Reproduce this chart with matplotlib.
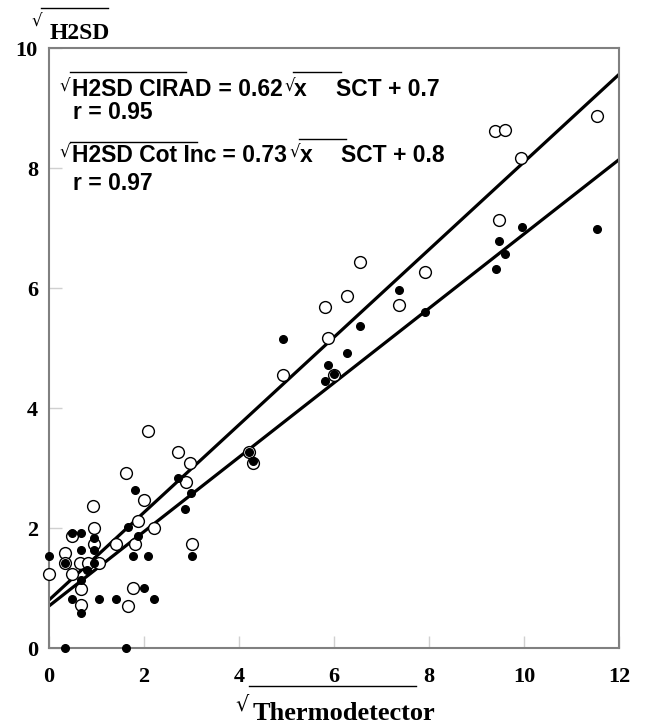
import matplotlib
matplotlib.use("Agg")
import matplotlib.pyplot as plt
from matplotlib.lines import Line2D

# open circles: Cot Inc, filled dots: CIRAD
cot_x = [0.0, 0.34, 0.34, 0.48, 0.48, 0.65, 0.67, 0.67, 0.83, 0.93, 0.95, 0.95, 1.06, 1.41,
         1.63, 1.66, 1.76, 1.81, 1.87, 2.0, 2.09, 2.2, 2.72, 2.88, 2.97, 3.0, 4.2, 4.3,
         4.93, 5.8, 5.87, 6.0, 6.28, 6.55, 7.37, 7.92, 9.39, 9.59, 9.48, 9.94, 11.53]
cot_y = [1.23, 1.58, 1.41, 1.86, 1.23, 1.41, 0.98, 0.71, 1.41, 2.36, 2.0, 1.73, 1.41, 1.73,
         2.92, 0.7, 1.0, 1.73, 2.12, 2.47, 3.62, 2.0, 3.26, 2.76, 3.09, 1.73, 3.27, 3.09,
         4.55, 5.68, 5.17, 4.55, 5.86, 6.43, 5.72, 6.27, 8.62, 8.64, 7.14, 8.16, 8.87]
cir_x = [0.0, 0.34, 0.34, 0.48, 0.48, 0.67, 0.67, 0.67, 0.67, 0.81, 0.95, 0.95, 0.95, 1.06,
         1.41, 1.63, 1.66, 1.76, 1.81, 1.87, 2.0, 2.08, 2.2, 2.72, 2.87, 2.98, 3.0, 4.2,
         4.3, 4.93, 5.8, 5.87, 6.0, 6.28, 6.55, 7.37, 7.92, 9.4, 9.48, 9.59, 9.95, 11.53]
cir_y = [1.53, 0.0, 1.41, 1.91, 0.81, 1.91, 1.63, 1.13, 0.58, 1.3, 1.83, 1.63, 1.41, 0.81,
         0.81, 0.0, 2.02, 1.53, 2.64, 1.86, 1.0, 1.53, 0.81, 2.84, 2.31, 2.59, 1.53, 3.27,
         3.12, 5.15, 4.45, 4.71, 4.57, 4.92, 5.37, 5.97, 5.6, 6.32, 6.78, 6.56, 7.01, 6.98]

# regression lines (slope, intercept)
cir_fit = (0.62, 0.7)
cot_fit = (0.73, 0.8)
line_x = [0, 12]

xticks = [0, 2, 4, 6, 8, 10, 12]
yticks = [0, 2, 4, 6, 8, 10]

W, H = 651, 725
fig = plt.figure(figsize=(W / 100, H / 100), dpi=100)
ax = fig.add_axes([49 / W, 1 - 648 / H, 570 / W, 600 / H])

for slope, icpt in [cot_fit, cir_fit]:
    ax.plot(line_x, [slope * v + icpt for v in line_x], color='black', lw=2.3,
            solid_capstyle='butt', zorder=2)
ax.plot(cot_x, cot_y, 'o', ms=8.5, mfc='white', mec='black', mew=1.0, zorder=3, clip_on=False)
ax.plot(cir_x, cir_y, 'o', ms=5.5, mfc='black', mec='black', zorder=4, clip_on=False)

ax.set_xlim(0, 12)
ax.set_ylim(0, 10)
ax.set_xticks(xticks)
ax.set_yticks(yticks)
serif = {'family': 'Liberation Serif', 'weight': 'bold', 'size': 16}
ax.set_xticklabels([str(t) for t in xticks], fontdict=serif)
ax.set_yticklabels([str(t) for t in yticks], fontdict=serif)
ax.tick_params(direction='in', length=9, width=1, color='#d0d0d0')
ax.tick_params(axis='x', pad=14)
ax.tick_params(axis='y', pad=8)
for s in ax.spines.values():
    s.set_color('#808080')
    s.set_linewidth(1.5)

renderer = fig.canvas.get_renderer()


def fx(px):
    return px / W


def fy(py):
    return 1 - py / H


def put(x, y, s, **kw):
    t = fig.text(fx(x), fy(y), s, va='baseline', **kw)
    bb = t.get_window_extent(renderer)
    return bb.x1


def bar(x0, x1, y):
    fig.add_artist(Line2D([fx(x0), fx(x1)], [fy(y), fy(y)], transform=fig.transFigure,
                          color='black', lw=1.0))


sans = dict(family=['Liberation Sans', 'DejaVu Sans'], weight='bold', fontsize=16.5)
rad = dict(family='DejaVu Sans', fontsize=12)

# axis titles
put(31, 27, '\u221a', **rad)
put(50, 39, 'H2SD', family='Liberation Serif', weight='bold', fontsize=17)
bar(41, 108, 8)
put(235, 711, '\u221a', fontsize=15, family='DejaVu Sans')
put(253, 720, 'Thermodetector', family='Liberation Serif', weight='bold', fontsize=19)
bar(249, 416, 686)

# equations
for y0, yr, name, slope, icpt, r, ov1, ov_y1, ov_y2 in [
        (96, 119, 'H2SD CIRAD', cir_fit[0], cir_fit[1], 0.95, 186, 72, 72),
        (162, 190, 'H2SD Cot Inc', cot_fit[0], cot_fit[1], 0.97, 197, 142, 139)]:
    put(59, y0 - 4, '\u221a', **rad)
    e = put(72, y0, name, **sans)
    bar(70, ov1, ov_y1)
    e = put(e, y0, ' = %.2f' % slope, **sans)
    put(e + 2, y0 - 4, '\u221a', **rad)
    e2 = put(e + 12, y0, 'x', **sans)
    bar(e + 11, e2 + 34, ov_y2)
    put(e2 + 29, y0, 'SCT + %.1f' % icpt, **sans)
    put(73, yr, 'r = %.2f' % r, **sans)

fig.savefig('out.png', dpi=100)
